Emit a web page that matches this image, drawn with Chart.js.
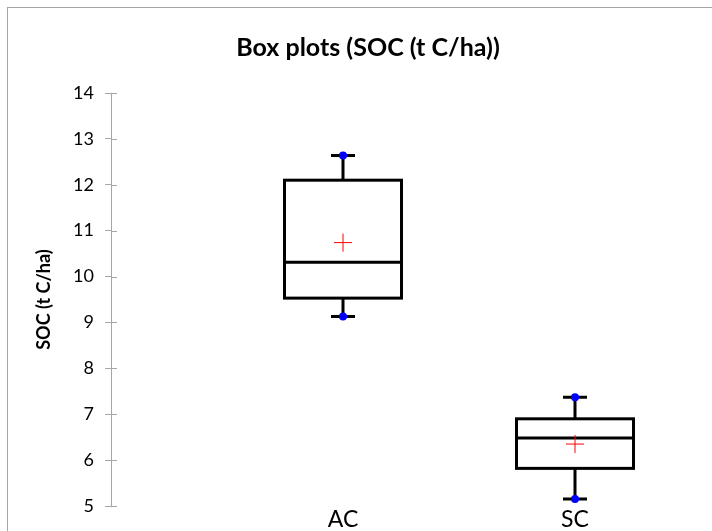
<!DOCTYPE html>
<html>
<head>
<meta charset="utf-8">
<script src="https://cdn.jsdelivr.net/npm/chart.js@4/dist/chart.umd.min.js"></script>
<style>
  html, body { margin: 0; padding: 0; overflow: hidden; background: #fff; }
  #frame { position: absolute; left: 7px; top: 7px; width: 900px; height: 900px; border: 1px solid #a6a6a6; }
  #chart { position: absolute; left: 0; top: 0; }
</style>
</head>
<body>
<div id="frame"></div>
<canvas id="chart" width="830" height="560"></canvas>
<script>
// Box plot statistics
const categories = ['AC', 'SC'];
const minimum = [9.13, 5.15];
const q1 = [9.53, 5.82];
const median = [10.31, 6.48];
const q3 = [12.10, 6.90];
const maximum = [12.64, 7.37];
const mean = [10.74, 6.35];

const yTicks = [5, 6, 7, 8, 9, 10, 11, 12, 13, 14];

const FONT = 'Lato, "Open Sans", sans-serif';

// Draws whiskers, boxes and medians behind the points
const boxPlugin = {
  id: 'boxes',
  beforeDatasetsDraw(chart) {
    const ctx = chart.ctx;
    const x = chart.scales.x;
    const y = chart.scales.y;
    const halfBox = 58.5;
    const halfCap = 12;
    ctx.save();
    ctx.strokeStyle = '#000';
    ctx.lineWidth = 3;
    categories.forEach((c, i) => {
      const xc = x.getPixelForValue(i + 1);
      const yMin = y.getPixelForValue(minimum[i]);
      const yQ1 = y.getPixelForValue(q1[i]);
      const yMed = y.getPixelForValue(median[i]);
      const yQ3 = y.getPixelForValue(q3[i]);
      const yMax = y.getPixelForValue(maximum[i]);

      ctx.beginPath();
      ctx.moveTo(xc, yQ3); ctx.lineTo(xc, yMax);
      ctx.moveTo(xc, yQ1); ctx.lineTo(xc, yMin);
      ctx.moveTo(xc - halfCap, yMax); ctx.lineTo(xc + halfCap, yMax);
      ctx.moveTo(xc - halfCap, yMin); ctx.lineTo(xc + halfCap, yMin);
      ctx.stroke();

      ctx.fillStyle = '#fff';
      ctx.fillRect(xc - halfBox, yQ3, halfBox * 2, yQ1 - yQ3);
      ctx.strokeRect(xc - halfBox, yQ3, halfBox * 2, yQ1 - yQ3);

      ctx.beginPath();
      ctx.moveTo(xc - halfBox, yMed); ctx.lineTo(xc + halfBox, yMed);
      ctx.stroke();
    });
    ctx.restore();
  }
};

// Inner half of the y tick marks and the chart title
const decorPlugin = {
  id: 'decor',
  afterDraw(chart) {
    const ctx = chart.ctx;
    const y = chart.scales.y;
    const left = chart.chartArea.left;
    ctx.save();
    ctx.strokeStyle = '#a6a6a6';
    ctx.lineWidth = 1;
    ctx.beginPath();
    yTicks.forEach(t => {
      const py = Math.round(y.getPixelForValue(t)) + 0.5;
      ctx.moveTo(left, py);
      ctx.lineTo(left + 6, py);
    });
    ctx.stroke();

    ctx.fillStyle = '#000';
    ctx.font = 'bold 25px ' + FONT;
    ctx.textAlign = 'center';
    ctx.textBaseline = 'middle';
    ctx.fillText('Box plots (SOC (t C/ha))', 368, 48);
    ctx.restore();
  }
};

new Chart(document.getElementById('chart'), {
  type: 'scatter',
  data: {
    datasets: [
      {
        label: 'Minimum / Maximum',
        data: categories.flatMap((c, i) => [
          { x: i + 1, y: minimum[i] },
          { x: i + 1, y: maximum[i] }
        ]),
        pointStyle: 'circle',
        pointRadius: 4,
        backgroundColor: '#0000ff',
        borderColor: '#0000ff',
        borderWidth: 0
      },
      {
        label: 'Mean',
        data: categories.map((c, i) => ({ x: i + 1, y: mean[i] })),
        pointStyle: 'cross',
        pointRadius: 9,
        borderColor: '#ff0000',
        borderWidth: 1
      }
    ]
  },
  options: {
    responsive: false,
    animation: false,
    events: [],
    layout: { padding: { top: 93, right: 23, left: 0, bottom: 0 } },
    plugins: {
      legend: { display: false },
      title: { display: false },
      tooltip: { enabled: false }
    },
    scales: {
      x: {
        type: 'linear',
        min: 0,
        max: 3,
        afterBuildTicks: scale => {
          scale.ticks = categories.map((c, i) => ({ value: i + 1 }));
        },
        afterFit: scale => { scale.height = 54; },
        ticks: {
          callback: v => categories[v - 1],
          font: { family: FONT, size: 23 },
          color: '#000',
          padding: 0
        },
        grid: { display: false, drawTicks: false },
        border: { display: false }
      },
      y: {
        min: 5,
        max: 14,
        afterBuildTicks: scale => {
          scale.ticks = yTicks.map(v => ({ value: v }));
        },
        afterFit: scale => { scale.width = 111; },
        ticks: {
          font: { family: FONT, size: 18 },
          color: '#000',
          padding: 11
        },
        grid: { drawOnChartArea: false, tickLength: 6, color: '#a6a6a6' },
        border: { color: '#a6a6a6', width: 1 },
        title: {
          display: true,
          text: 'SOC (t C/ha)',
          font: { family: FONT, size: 18, weight: 'bold' },
          color: '#000',
          padding: { top: 33, bottom: 0 }
        }
      }
    }
  },
  plugins: [boxPlugin, decorPlugin]
});
</script>
</body>
</html>
